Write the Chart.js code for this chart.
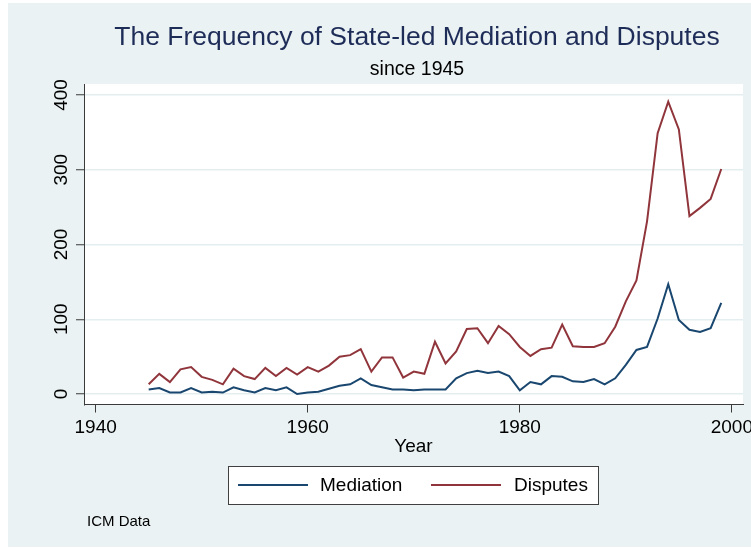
<!DOCTYPE html>
<html>
<head>
<meta charset="utf-8">
<script src="https://cdn.jsdelivr.net/npm/chart.js@4"></script>
<style>
  html, body { margin: 0; padding: 0; background: #ffffff; }
  #wrap { width: 751px; height: 548px; }
</style>
</head>
<body>
<div id="wrap"><canvas id="freqChart" width="751" height="548"></canvas></div>
<script>
/* ── Data ─────────────────────────────────────────────────── */
const years = [
  1945, 1946, 1947, 1948, 1949, 1950, 1951, 1952, 1953, 1954,
  1955, 1956, 1957, 1958, 1959, 1960, 1961, 1962, 1963, 1964,
  1965, 1966, 1967, 1968, 1969, 1970, 1971, 1972, 1973, 1974,
  1975, 1976, 1977, 1978, 1979, 1980, 1981, 1982, 1983, 1984,
  1985, 1986, 1987, 1988, 1989, 1990, 1991, 1992, 1993, 1994,
  1995, 1996, 1997, 1998, 1999
];
const mediation = [
  6, 8, 2, 2, 8, 2, 3, 2, 9, 5,
  2, 8, 5, 9, 0, 2, 3, 7, 11, 13,
  21, 12, 9, 6, 6, 5, 6, 6, 6, 21,
  28, 31, 28, 30, 24, 5, 16, 13, 24, 23,
  17, 16, 20, 13, 21, 39, 59, 63, 101, 147,
  99, 86, 83, 88, 122
];
const disputes = [
  13, 27, 16, 33, 36, 23, 19, 13, 34, 24,
  20, 35, 24, 35, 26, 36, 30, 38, 50, 52,
  60, 30, 49, 49, 22, 30, 27, 70, 41, 57,
  87, 88, 68, 91, 80, 63, 51, 60, 62, 93,
  64, 63, 63, 68, 90, 124, 152, 231, 349, 391,
  354, 238, 249, 261, 301
];
const xTicks = [1940, 1960, 1980, 2000];
const yTicks = [0, 100, 200, 300, 400];

const seriesNames = ['Mediation', 'Disputes'];
const titleText = 'The Frequency of State-led Mediation and Disputes';
const subtitleText = 'since 1945';
const noteText = 'ICM Data';

/* ── Style ────────────────────────────────────────────────── */
const FONT = '"Liberation Sans", Arial, sans-serif';
const BLUE = '#1a476f';
const RED = '#90353b';
const BG = '#eaf2f3';
const GRID = '#e4eef0';
const AXIS = '#3a3a3a';

/* ── Background, titles, note and framed legend ───────────── */
const decorations = {
  id: 'decorations',
  beforeDraw(chart) {
    const { ctx, chartArea: a } = chart;
    ctx.save();
    ctx.fillStyle = '#ffffff';
    ctx.fillRect(0, 0, chart.width, chart.height);
    ctx.fillStyle = BG;
    ctx.fillRect(8, 3, chart.width - 8, chart.height - 4);
    ctx.fillStyle = '#ffffff';
    ctx.fillRect(a.left, a.top, a.right - a.left, a.bottom - a.top);
    ctx.restore();
  },
  afterDraw(chart) {
    const { ctx } = chart;
    ctx.save();
    ctx.textAlign = 'center';
    ctx.textBaseline = 'middle';
    ctx.fillStyle = '#1e2c58';
    ctx.font = '26.5px ' + FONT;
    ctx.fillText(titleText, 417, 38);
    ctx.fillStyle = '#000000';
    ctx.font = '19.5px ' + FONT;
    ctx.fillText(subtitleText, 417, 70);

    /* legend box */
    ctx.fillStyle = '#ffffff';
    ctx.fillRect(228, 466, 370, 38);
    ctx.strokeStyle = '#404040';
    ctx.lineWidth = 1;
    ctx.strokeRect(228.5, 466.5, 370, 38);
    const items = [{ x: 238, tx: 320 }, { x: 431, tx: 514 }];
    chart.data.datasets.forEach((ds, i) => {
      ctx.strokeStyle = ds.borderColor;
      ctx.lineWidth = 2;
      ctx.beginPath();
      ctx.moveTo(items[i].x, 485);
      ctx.lineTo(items[i].x + 70, 485);
      ctx.stroke();
      ctx.fillStyle = '#000000';
      ctx.font = '19px ' + FONT;
      ctx.textAlign = 'left';
      ctx.fillText(ds.label, items[i].tx, 486);
    });

    /* note */
    ctx.font = '15px ' + FONT;
    ctx.textAlign = 'left';
    ctx.fillText(noteText, 87, 522);
    ctx.restore();
  }
};

const ctx = document.getElementById('freqChart').getContext('2d');
new Chart(ctx, {
  type: 'line',
  data: {
    datasets: [
      {
        label: seriesNames[0],
        data: years.map((yr, i) => ({ x: yr, y: mediation[i] })),
        borderColor: BLUE,
        borderWidth: 2,
        pointRadius: 0,
        tension: 0,
        fill: false
      },
      {
        label: seriesNames[1],
        data: years.map((yr, i) => ({ x: yr, y: disputes[i] })),
        borderColor: RED,
        borderWidth: 2,
        pointRadius: 0,
        tension: 0,
        fill: false
      }
    ]
  },
  options: {
    responsive: false,
    animation: false,
    devicePixelRatio: 1,
    layout: { padding: { top: 84, right: 8, bottom: 90, left: 0 } },
    plugins: {
      legend: { display: false },   /* framed legend drawn above */
      title: { display: false },
      tooltip: { enabled: false }
    },
    scales: {
      x: {
        type: 'linear',
        min: 1938.9,
        max: 2001.05,
        afterBuildTicks(scale) { scale.ticks = xTicks.map(v => ({ value: v })); },
        afterFit(scale) {
          scale.height = 53.5;
          scale.paddingLeft = 0;   /* let "2000" run past the plot edge like the original */
          scale.paddingRight = 0;
        },
        grid: { drawOnChartArea: false, tickLength: 8, tickColor: AXIS, tickWidth: 1 },
        border: { display: true, color: AXIS, width: 1 },
        ticks: {
          color: '#000000',
          padding: 4,
          maxRotation: 0,
          font: { family: FONT, size: 19 },
          callback: v => String(v)
        },
        title: {
          display: true,
          text: 'Year',
          color: '#000000',
          padding: 0,
          font: { family: FONT, size: 19 }
        }
      },
      y: {
        type: 'linear',
        min: -14,
        max: 414.7,
        afterBuildTicks(scale) { scale.ticks = yTicks.map(v => ({ value: v })); },
        afterFit(scale) {
          scale.width = 84;
          scale.paddingTop = 0;
          scale.paddingBottom = 0;
        },
        grid: { color: GRID, lineWidth: 1.5, tickLength: 8, tickColor: AXIS, tickWidth: 1 },
        border: { display: true, color: AXIS, width: 1 },
        ticks: {
          color: '#000000',
          padding: -2,
          minRotation: 90,
          maxRotation: 90,
          crossAlign: 'center',
          font: { family: FONT, size: 19 },
          callback: v => String(v)
        }
      }
    }
  },
  plugins: [decorations]
});
</script>
</body>
</html>
